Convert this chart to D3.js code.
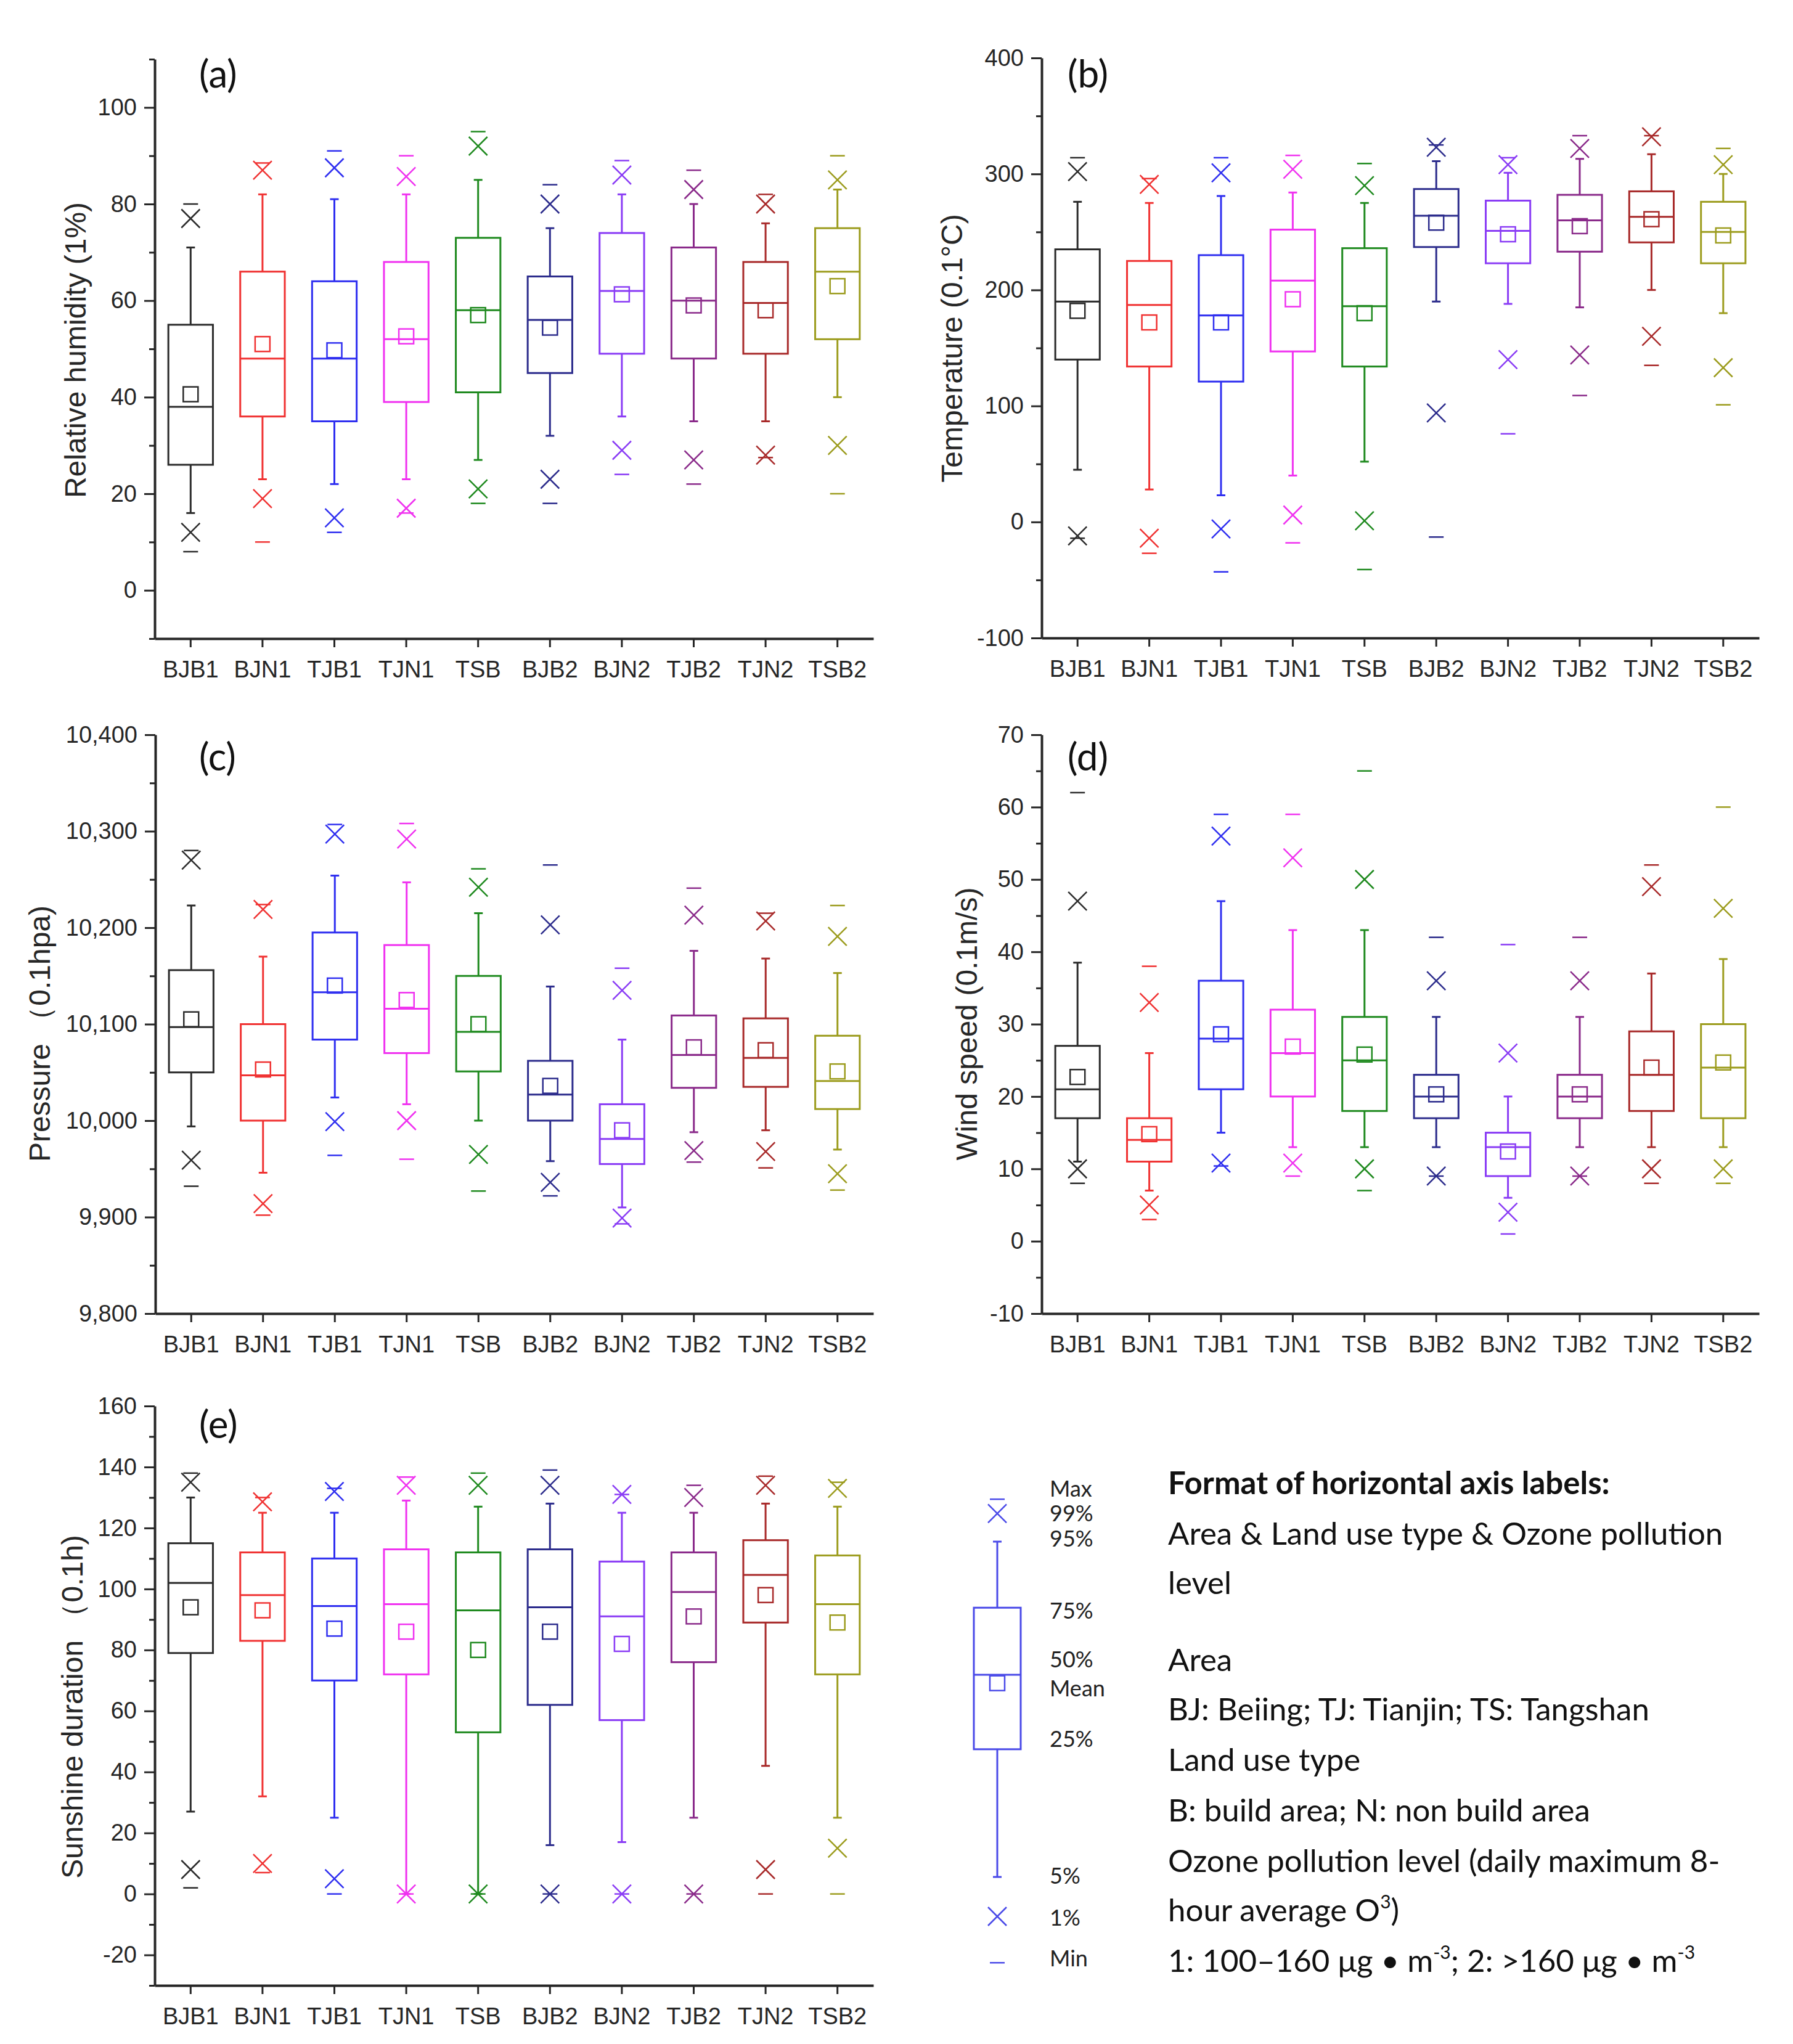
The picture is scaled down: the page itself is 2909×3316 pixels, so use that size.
<!DOCTYPE html>
<html>
<head>
<meta charset="utf-8">
<script src="https://cdn.jsdelivr.net/npm/d3@7"></script>
<style>
  body { margin: 0; background: #fff; }
  svg { display: block; }
</style>
</head>
<body>
<div id="chart"></div>
<script>
// categories on every x axis
var categories = ['BJB1', 'BJN1', 'TJB1', 'TJN1', 'TSB', 'BJB2', 'BJN2', 'TJB2', 'TJN2', 'TSB2'];
var colors = ['#2b2b2b', '#f03232', '#2f2ff0', '#f032f0', '#1f8a1f', '#2c2c8c', '#8a3cf5', '#8a2a8a', '#a82a2a', '#9c9c1e'];

// each row: min, 1%, 5%, 25%, median, mean, 75%, 95%, 99%, max
var humidity = [
  [8, 12, 16, 26, 38, 40.6, 55, 71, 77, 80],
  [10, 19, 23, 36, 48, 51, 66, 82, 87, 88.5],
  [12, 15, 22, 35, 48, 49.7, 64, 81, 87.5, 91],
  [16, 17, 23, 39, 52, 52.6, 68, 82, 85.7, 90],
  [18, 21, 27, 41, 58, 57, 73, 85, 92, 95],
  [18, 23, 32, 45, 56, 54.4, 65, 75, 80, 84],
  [24, 29, 36, 49, 62, 61.3, 74, 82, 86, 89],
  [22, 27, 35, 48, 60, 59, 71, 80, 83, 87],
  [27.5, 28, 35, 49, 59.5, 58, 68, 76, 80, 82],
  [20, 30, 40, 52, 66, 63, 75, 83, 85, 90]
];
var temperature = [
  [-14, -12, 45, 140, 190, 182, 235, 276, 302, 314],
  [-27, -14, 28, 134, 187, 172, 225, 275, 291, 296],
  [-43, -6, 23, 121, 178, 172, 230, 281, 301, 314],
  [-18, 6, 40, 147, 208, 192, 252, 284, 304, 316],
  [-41, 1, 52, 134, 186, 180, 236, 275, 290, 309],
  [-13, 94, 190, 237, 264, 258, 287, 311, 323, 325],
  [76, 140, 188, 223, 251, 248, 277, 301, 308, 314],
  [109, 144, 185, 233, 260, 255, 282, 313, 322, 333],
  [135, 160, 200, 241, 263, 261, 285, 317, 332, 333],
  [101, 133, 180, 223, 250, 247, 276, 300, 308, 322]
];
var pressure = [
  [9932, 9959, 9994, 10050, 10097, 10105, 10156, 10223, 10270, 10280],
  [9902, 9914, 9946, 10000, 10047, 10053, 10100, 10170, 10219, 10224],
  [9964, 9999, 10024, 10084, 10133, 10140, 10195, 10254, 10297, 10307],
  [9960, 10000, 10017, 10070, 10116, 10125, 10182, 10247, 10292, 10308],
  [9927, 9965, 10000, 10051, 10092, 10100, 10150, 10215, 10242, 10261],
  [9922, 9936, 9958, 10000, 10027, 10036, 10062, 10139, 10203, 10265],
  [9893, 9899, 9910, 9955, 9981, 9990, 10017, 10084, 10135, 10158],
  [9957, 9969, 9988, 10034, 10068, 10076, 10109, 10176, 10213, 10241],
  [9951, 9968, 9990, 10035, 10065, 10073, 10106, 10168, 10207, 10215],
  [9928, 9945, 9970, 10012, 10041, 10051, 10088, 10153, 10191, 10223]
];
var windSpeed = [
  [8, 10, 11, 17, 21, 22.7, 27, 38.5, 47, 62],
  [3, 5, 7, 11, 14, 14.8, 17, 26, 33, 38],
  [10.4, 10.8, 15, 21, 28, 28.6, 36, 47, 56, 59],
  [9, 10.8, 13, 20, 26, 26.9, 32, 43, 53, 59],
  [7, 10, 13, 18, 25, 25.8, 31, 43, 50, 65],
  [9, 9, 13, 17, 20, 20.3, 23, 31, 36, 42],
  [1, 4, 6, 9, 13, 12.4, 15, 20, 26, 41],
  [9, 9, 13, 17, 20, 20.3, 23, 31, 36, 42],
  [8, 10, 13, 18, 23, 24, 29, 37, 49, 52],
  [8, 10, 13, 17, 24, 24.7, 30, 39, 46, 60]
];
var sunshine = [
  [2, 8, 27, 79, 102, 94, 115, 130, 135, 138],
  [7, 10, 32, 83, 98, 93, 112, 125, 128.6, 130],
  [0, 5, 25, 70, 94.4, 87, 110, 125, 132, 133],
  [0, 0, 0, 72, 95, 86, 113, 129, 134, 136.7],
  [0, 0, 0, 53, 93, 80, 112, 127, 134, 138],
  [0, 0, 16, 62, 94, 86, 113, 128, 134, 139],
  [0, 0, 17, 57, 91, 82, 109, 125, 131, 131],
  [0, 0, 25, 76, 99, 91, 112, 125, 130, 134],
  [0, 8, 42, 89, 104.6, 98, 116, 128, 134, 137],
  [0, 15, 25, 72, 95, 89, 111, 127, 133, 135]
];

// y tick labels
var humidityTicks = [0, 20, 40, 60, 80, 100];
var temperatureTicks = [-100, 0, 100, 200, 300, 400];
var pressureTicks = [9800, 9900, 10000, 10100, 10200, 10300, 10400];
var windTicks = [-10, 0, 10, 20, 30, 40, 50, 60, 70];
var sunshineTicks = [-20, 0, 20, 40, 60, 80, 100, 120, 140, 160];

// legend sample box (same order as rows above) and its labels
var legendSample = [5.1, 14.5, 22.5, 48.4, 63.5, 61.8, 77.1, 90.5, 96.2, 99.1];
var legendLabels = ['Max', '99%', '95%', '75%', '50%', 'Mean', '25%', '5%', '1%', 'Min'];
var legendLabelAt = [101.3, 96.2, 91.1, 76.5, 66.6, 60.8, 50.5, 22.8, 14.2, 6];

var W = 2909, H = 3316;
var svg = d3.select('#chart').append('svg')
  .attr('width', W).attr('height', H)
  .attr('viewBox', '0 0 ' + W + ' ' + H);

var tickFont = "'Liberation Sans', Arial, sans-serif";
var textFont = "Lato, 'Open Sans', sans-serif";
var axisColor = '#262626';

// plain hyphen for negatives, as in the original
var plain = function(v) { return String(v); };
var comma = function(v) { return d3.format(',')(v).replace('\u2212', '-'); };

var panels = [
  {data: humidity, domain: [-10, 110], ticks: humidityTicks, minor: 10, fmt: plain,
   title: 'Relative humidity (1%)', tag: '(a)',
   x0: 251, x1: 1417, y0: 96, y1: 1036, titleX: 122, titleY: 568, tagX: 323, tagY: 142},
  {data: temperature, domain: [-100, 400], ticks: temperatureTicks, minor: 50, fmt: plain,
   title: 'Temperature (0.1\u00b0C)', tag: '(b)',
   x0: 1690, x1: 2854, y0: 94, y1: 1035, titleX: 1544, titleY: 565, tagX: 1732, tagY: 142},
  {data: pressure, domain: [9800, 10400], ticks: pressureTicks, minor: 50, fmt: comma,
   title: 'Pressure \uff080.1hpa)', tag: '(c)',
   x0: 252, x1: 1417, y0: 1192, y1: 2131, titleX: 64, titleY: 1677, tagX: 323, tagY: 1250},
  {data: windSpeed, domain: [-10, 70], ticks: windTicks, minor: 5, fmt: plain,
   title: 'Wind speed (0.1m/s)', tag: '(d)',
   x0: 1690, x1: 2854, y0: 1192, y1: 2131, titleX: 1568, titleY: 1661, tagX: 1732, tagY: 1250},
  {data: sunshine, domain: [-30, 160], ticks: sunshineTicks, minor: 10, fmt: plain,
   title: 'Sunshine duration \uff080.1h)', tag: '(e)',
   x0: 251, x1: 1417, y0: 2281, y1: 3221, titleX: 117, titleY: 2769, tagX: 323, tagY: 2333}
];

// draws one box: whiskers, box, median, mean, 1/99% crosses, min/max dashes
function drawBox(g, row, cx, boxW, y, color) {
  var b = g.append('g').attr('stroke', color).attr('fill', 'none').attr('stroke-width', 3);
  var capW = 7, xs = 15, dashW = 12, meanS = 12;
  // whiskers
  b.append('line').attr('x1', cx).attr('x2', cx).attr('y1', y(row[2])).attr('y2', y(row[3]));
  b.append('line').attr('x1', cx).attr('x2', cx).attr('y1', y(row[6])).attr('y2', y(row[7]));
  b.append('line').attr('x1', cx - capW).attr('x2', cx + capW).attr('y1', y(row[2])).attr('y2', y(row[2]));
  b.append('line').attr('x1', cx - capW).attr('x2', cx + capW).attr('y1', y(row[7])).attr('y2', y(row[7]));
  // box
  b.append('rect').attr('x', cx - boxW / 2).attr('width', boxW)
    .attr('y', y(row[6])).attr('height', y(row[3]) - y(row[6]));
  b.append('line').attr('x1', cx - boxW / 2).attr('x2', cx + boxW / 2)
    .attr('y1', y(row[4])).attr('y2', y(row[4]));
  // mean
  b.append('rect').attr('x', cx - meanS).attr('y', y(row[5]) - meanS)
    .attr('width', meanS * 2).attr('height', meanS * 2).attr('stroke-width', 2.5);
  // 1% and 99%
  [row[1], row[8]].forEach(function(v) {
    b.append('path').attr('stroke-width', 2.5)
      .attr('d', 'M' + (cx - xs) + ',' + (y(v) - xs) + 'L' + (cx + xs) + ',' + (y(v) + xs) +
                 'M' + (cx - xs) + ',' + (y(v) + xs) + 'L' + (cx + xs) + ',' + (y(v) - xs));
  });
  // min and max
  [row[0], row[9]].forEach(function(v) {
    b.append('line').attr('x1', cx - dashW).attr('x2', cx + dashW)
      .attr('y1', y(v)).attr('y2', y(v)).attr('stroke-width', 2.5);
  });
}

panels.forEach(function(p) {
  var g = svg.append('g');
  var x = d3.scaleBand().domain(categories).range([p.x0, p.x1]).padding(0);
  var y = d3.scaleLinear().domain(p.domain).range([p.y1, p.y0]);
  var boxW = x.bandwidth() * 0.62;

  // minor ticks
  var minorVals = d3.range(p.domain[0], p.domain[1] + 0.001, p.minor)
    .filter(function(v) { return p.ticks.indexOf(v) < 0; });
  g.append('g').attr('transform', 'translate(' + p.x0 + ',0)')
    .call(d3.axisLeft(y).tickValues(minorVals).tickSize(9).tickSizeOuter(0).tickFormat(''))
    .call(function(a) {
      a.select('.domain').remove();
      a.selectAll('line').attr('stroke', axisColor).attr('stroke-width', 3);
    });

  // major y axis
  g.append('g').attr('transform', 'translate(' + p.x0 + ',0)')
    .call(d3.axisLeft(y).tickValues(p.ticks).tickSize(17).tickSizeOuter(0).tickPadding(12).tickFormat(p.fmt))
    .call(function(a) {
      a.select('.domain').attr('stroke', axisColor).attr('stroke-width', 4);
      a.selectAll('line').attr('stroke', axisColor).attr('stroke-width', 3);
      a.selectAll('text').attr('font-family', tickFont).attr('font-size', 38).attr('fill', axisColor);
    });

  // x axis
  g.append('g').attr('transform', 'translate(0,' + p.y1 + ')')
    .call(d3.axisBottom(x).tickSize(14).tickSizeOuter(0).tickPadding(22))
    .call(function(a) {
      a.select('.domain').attr('stroke', axisColor).attr('stroke-width', 4);
      a.selectAll('line').attr('stroke', axisColor).attr('stroke-width', 3);
      a.selectAll('text').attr('font-family', tickFont).attr('font-size', 38).attr('fill', axisColor);
    });

  // boxes
  p.data.forEach(function(row, i) {
    drawBox(g, row, x(categories[i]) + x.bandwidth() / 2, boxW, y, colors[i]);
  });

  // y title
  g.append('text')
    .attr('transform', 'translate(' + p.titleX + ',' + p.titleY + ') rotate(-90)')
    .attr('text-anchor', 'middle').attr('dominant-baseline', 'central')
    .attr('font-family', tickFont).attr('font-size', 48).attr('fill', axisColor)
    .text(p.title);

  // panel tag
  g.append('text').attr('x', p.tagX).attr('y', p.tagY)
    .attr('font-family', textFont).attr('font-size', 62).attr('fill', '#111')
    .text(p.tag);
});

// ---- legend: sample box ----
var legendColor = '#4a4ae8';
var ly = d3.scaleLinear().domain([0, 100]).range([3225, 2425]);
var lg = svg.append('g');
drawBox(lg, legendSample, 1618, 76, ly, legendColor);

lg.selectAll('text.lab').data(legendLabels).enter().append('text')
  .attr('class', 'lab')
  .attr('x', 1703)
  .attr('y', function(d, i) { return ly(legendLabelAt[i]) + 13; })
  .attr('font-family', textFont).attr('font-size', 36).attr('fill', '#222')
  .text(function(d) { return d; });

// ---- legend: explanation text ----
var noteLines = [
  {t: 'Format of horizontal axis labels:', bold: true},
  {t: 'Area & Land use type & Ozone pollution'},
  {t: 'level'},
  {t: 'Area'},
  {t: 'BJ: Beiing; TJ: Tianjin; TS: Tangshan'},
  {t: 'Land use type'},
  {t: 'B: build area; N: non build area'},
  {t: 'Ozone pollution level (daily maximum 8-'},
  {t: 'hour average O', sup: '3', after: ')'},
  {t: '1: 100\u2013160 \u03bcg \u2022 m', sup: '-3', after: '; 2: >160 \u03bcg \u2022 m', sup2: '-3'}
];
var noteY = [2424, 2506, 2586, 2711, 2791, 2873, 2955, 3037, 3117, 3199];

var notes = svg.append('g')
  .attr('font-family', textFont).attr('font-size', 51).attr('fill', '#111');
noteLines.forEach(function(l, i) {
  var t = notes.append('text').attr('x', 1895).attr('y', noteY[i])
    .attr('font-weight', l.bold ? 'bold' : 'normal');
  t.append('tspan').text(l.t);
  if (l.sup) {
    t.append('tspan').attr('dy', -21).attr('font-size', 30).text(l.sup);
    t.append('tspan').attr('dy', 21).text(l.after);
  }
  if (l.sup2) {
    t.append('tspan').attr('dy', -21).attr('font-size', 30).text(l.sup2);
  }
});
</script>
</body>
</html>
